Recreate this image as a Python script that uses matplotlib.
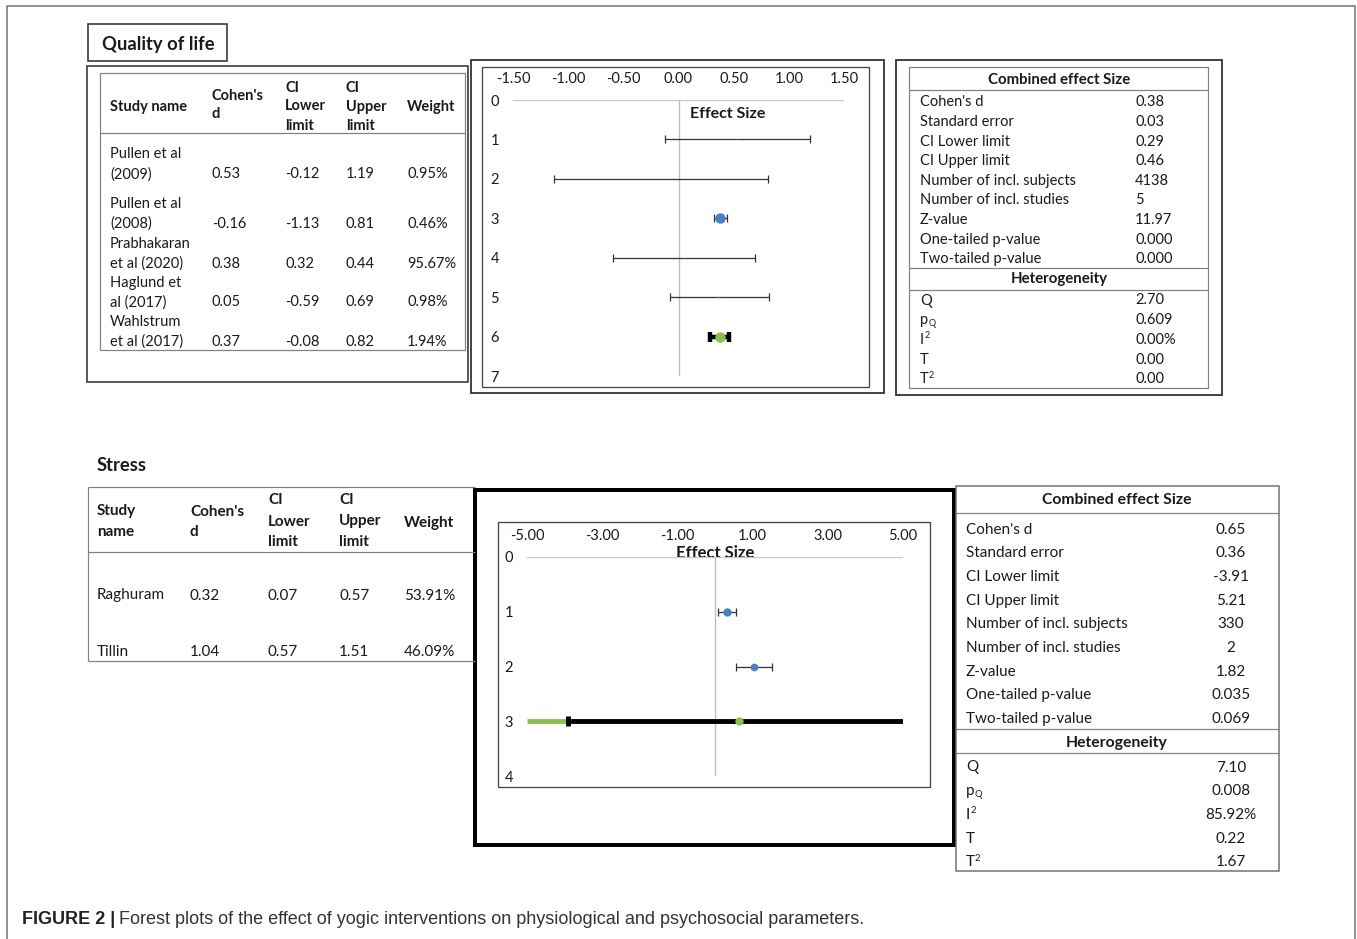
import matplotlib
matplotlib.use("Agg")
import matplotlib.pyplot as plt
from matplotlib.patches import Rectangle
from matplotlib import font_manager

W, H = 1357, 939

# ---- data: quality of life ----
qol_studies = [["Pullen et al", "(2009)"], ["Pullen et al", "(2008)"],
               ["Prabhakaran", "et al (2020)"], ["Haglund et", "al (2017)"],
               ["Wahlstrum", "et al (2017)"]]
qol_d = [0.53, -0.16, 0.38, 0.05, 0.37]
qol_lo = [-0.12, -1.13, 0.32, -0.59, -0.08]
qol_hi = [1.19, 0.81, 0.44, 0.69, 0.82]
qol_w = [0.95, 0.46, 95.67, 0.98, 1.94]
qol_comb = (0.38, 0.29, 0.46)
qol_ticks = [-1.5, -1.0, -0.5, 0.0, 0.5, 1.0, 1.5]
qol_comb_vals = ["0.38", "0.03", "0.29", "0.46", "4138", "5", "11.97", "0.000", "0.000"]
qol_het_vals = ["2.70", "0.609", "0.00%", "0.00", "0.00"]

# ---- data: stress ----
st_studies = ["Raghuram", "Tillin"]
st_d = [0.32, 1.04]
st_lo = [0.07, 0.57]
st_hi = [0.57, 1.51]
st_w = [53.91, 46.09]
st_comb = (0.65, -3.91, 5.21)
st_ticks = [-5.0, -3.0, -1.0, 1.0, 3.0, 5.0]
st_comb_vals = ["0.65", "0.36", "-3.91", "5.21", "330", "2", "1.82", "0.035", "0.069"]
st_het_vals = ["7.10", "0.008", "85.92%", "0.22", "1.67"]

comb_labels = ["Cohen's d", "Standard error", "CI Lower limit", "CI Upper limit",
               "Number of incl. subjects", "Number of incl. studies", "Z-value",
               "One-tailed p-value", "Two-tailed p-value"]
# (base, subscript, superscript)
het_labels = [("Q", "", ""), ("p", "Q", ""), ("I", "", "2"), ("T", "", ""), ("T", "", "2")]

BLUE = "#4a7ec8"
GREEN = "#8dbe4f"
INK = "#1a1a1a"

plt.rcParams['font.family'] = ['Lato', 'DejaVu Sans']

fig = plt.figure(figsize=(W / 100, H / 100), dpi=100)
bg = fig.add_axes([0, 0, 1, 1])
bg.set_xlim(0, W)
bg.set_ylim(H, 0)
bg.axis('off')


def box(x0, y0, x1, y1, lw=1.5, color='#333333'):
    bg.add_patch(Rectangle((x0, y0), x1 - x0, y1 - y0, fill=False, lw=lw * 0.72, ec=color))


def hline(y, x0, x1, lw=1.2, color='#808080'):
    bg.plot([x0, x1], [y, y], color=color, lw=lw * 0.72, solid_capstyle='butt')


def vline(x, y0, y1, lw=1.2, color='#808080'):
    bg.plot([x, x], [y0, y1], color=color, lw=lw * 0.72, solid_capstyle='butt')


def txt(x, y, s, size=10.5, bold=False, ha='left', color=INK):
    return bg.text(x, y + 1.5, s, fontsize=size, fontweight='bold' if bold else 'normal',
                   ha=ha, va='center', color=color)


def lines(x, y, parts, pitch, **kw):
    for i, p in enumerate(parts):
        txt(x, y + i * pitch, p, **kw)


def het_label(x, y, lab, size):
    base, sub, sup = lab
    txt(x, y, base, size=size)
    off = {"p": 8.5, "I": 5, "T": 9}.get(base, 8)
    if sub:
        txt(x + off, y + 3, sub, size=size * 0.62)
    if sup:
        txt(x + off, y - 4, sup, size=size * 0.62)


def forest(px, xlim, ticks, d, lo, hi, w, comb, ms_max, comb_lw, tail=False):
    x0, y0, x1, y1 = px
    n = len(d)
    ax = fig.add_axes([x0 / W, 1 - y1 / H, (x1 - x0) / W, (y1 - y0) / H])
    ax.patch.set_alpha(0)
    ax.set_xlim(*xlim)
    ax.set_ylim(n + 2, 0)
    for s in ax.spines.values():
        s.set_visible(False)
    ax.axhline(0, color='#c8c8c8', lw=1.0)
    ax.axvline(0, color='#c0c0c0', lw=1.0)
    ax.xaxis.tick_top()
    ax.set_xticks(ticks)
    ax.set_xticklabels([f"{t:.2f}" for t in ticks])
    ax.set_yticks(range(n + 3))
    ax.tick_params(length=0, labelsize=10.5, pad=10, colors=INK)
    ys = list(range(1, n + 1))
    ax.errorbar(d, ys, xerr=[[a - b for a, b in zip(d, lo)], [b - a for a, b in zip(d, hi)]],
                fmt='none', ecolor='#333333', elinewidth=0.9, capsize=3, capthick=0.9)
    for x, y, wt in zip(d, ys, w):
        ax.plot(x, y, 'o', color=BLUE, ms=ms_max * (wt / max(w)) ** 0.5, mec='none')
    c, clo, chi = comb
    yc = n + 1
    if tail:
        ax.plot([xlim[0], clo], [yc, yc], color=GREEN, lw=comb_lw, solid_capstyle='butt')
    ax.errorbar([c], [yc], xerr=[[c - clo], [chi - c]], fmt='none', ecolor='black',
                elinewidth=comb_lw, capsize=3.5, capthick=comb_lw)
    ax.plot(c, yc, 'o', color=GREEN, ms=ms_max, mec='none')
    return ax


# outer frame (open at the bottom)
bg.plot([7, 7, 1355, 1355], [H, 6, 6, H], color='#707070', lw=1.5 * 0.72)

# ================= Quality of life =================
box(88, 24, 227, 61, lw=1.6)
txt(102, 43, "Quality of life", size=13.2, bold=True)

box(87, 66, 468, 382, lw=1.6)
box(100, 73, 465, 350, lw=1.2, color='#808080')
hline(133, 100, 465)
hb = dict(size=10.5, bold=True)
txt(110, 105, "Study name", **hb)
lines(212, 95, ["Cohen's", "d"], 18, **hb)
lines(285, 86, ["CI", "Lower", "limit"], 19, **hb)
lines(346, 86, ["CI", "Upper", "limit"], 19, **hb)
txt(407, 105, "Weight", **hb)
row_y = [173, 222, 262, 301, 340]
for y, name, dv, lv, hv, wv in zip(row_y, qol_studies, qol_d, qol_lo, qol_hi, qol_w):
    lines(110, y - 20, name, 20)
    txt(212, y, f"{dv:.2f}")
    txt(285, y, f"{lv:.2f}")
    txt(346, y, f"{hv:.2f}")
    txt(407, y, f"{wv:.2f}%")

box(471, 60, 884, 393, lw=1.8)
box(482, 67, 869, 387, lw=1.3, color='#444444')
forest((513, 100, 844, 376), (-1.5, 1.5), qol_ticks, qol_d, qol_lo, qol_hi, qol_w,
       qol_comb, 7.5, 3.2)
txt(728, 112, "Effect Size", size=11.5, bold=True, ha='center')

box(896, 60, 1222, 395, lw=1.8)
box(909, 67, 1208, 388, lw=1.2, color='#808080')
hline(90, 909, 1208)
hline(268, 909, 1208)
hline(290, 909, 1208)
txt(1059, 78, "Combined effect Size", size=10.8, bold=True, ha='center')
for i, (lab, v) in enumerate(zip(comb_labels, qol_comb_vals)):
    y = 101 + i * 19.6
    txt(920, y, lab)
    txt(1135, y, v)
txt(1059, 278, "Heterogeneity", size=10.8, bold=True, ha='center')
for i, (lab, v) in enumerate(zip(het_labels, qol_het_vals)):
    y = 299 + i * 19.7
    het_label(920, y, lab, 10.5)
    txt(1135, y, v)

# ================= Stress =================
txt(97, 464, "Stress", size=13.2, bold=True)
hline(487, 88, 475)
hline(552, 88, 475)
hline(661, 88, 475)
vline(88, 487, 661)
sb = dict(size=11, bold=True)
lines(97, 510, ["Study", "name"], 21, **sb)
lines(190, 510, ["Cohen's", "d"], 21, **sb)
lines(268, 499, ["CI", "Lower", "limit"], 21, **sb)
lines(339, 499, ["CI", "Upper", "limit"], 21, **sb)
txt(404, 521, "Weight", **sb)
for y, name, dv, lv, hv, wv in zip([594, 650], st_studies, st_d, st_lo, st_hi, st_w):
    txt(97, y, name, size=11)
    txt(190, y, f"{dv:.2f}", size=11)
    txt(268, y, f"{lv:.2f}", size=11)
    txt(339, y, f"{hv:.2f}", size=11)
    txt(404, y, f"{wv:.2f}%", size=11)

box(498, 522, 930, 787, lw=1.3, color='#444444')
forest((527, 557, 903, 776), (-5, 5), st_ticks, st_d, st_lo, st_hi, st_w,
       st_comb, 6.0, 3.5, tail=True)
txt(715, 552, "Effect Size", size=12, bold=True, ha='center')
box(475, 490, 954, 845, lw=4, color='black')

box(956, 486, 1279, 871, lw=1.5, color='#707070')
hline(513, 956, 1279)
hline(729, 956, 1279)
hline(753, 956, 1279)
txt(1117, 498, "Combined effect Size", size=11.3, bold=True, ha='center')
for i, (lab, v) in enumerate(zip(comb_labels, st_comb_vals)):
    y = 528 + i * 23.7
    txt(966, y, lab, size=11)
    txt(1231, y, v, size=11, ha='center')
txt(1117, 741, "Heterogeneity", size=11.3, bold=True, ha='center')
for i, (lab, v) in enumerate(zip(het_labels, st_het_vals)):
    y = 766 + i * 23.7
    het_label(966, y, lab, 11)
    txt(1231, y, v, size=11, ha='center')

# ================= caption =================
try:
    font_manager.findfont('Liberation Sans Narrow', fallback_to_default=False)
    cap_font, cap_size = 'Liberation Sans Narrow', 15
except ValueError:
    cap_font, cap_size = 'Liberation Sans', 13
t1 = bg.text(22, 919, "FIGURE 2 |", fontsize=cap_size, fontweight='bold', family=cap_font,
             ha='left', va='center', color='#222222')
fig.canvas.draw()
ext = t1.get_window_extent(fig.canvas.get_renderer())
bg.text(ext.x1 + 4, 919, "Forest plots of the effect of yogic interventions on physiological and psychosocial parameters.",
        fontsize=cap_size, family=cap_font, ha='left', va='center', color='#333333')

fig.savefig("out.png", dpi=100)
